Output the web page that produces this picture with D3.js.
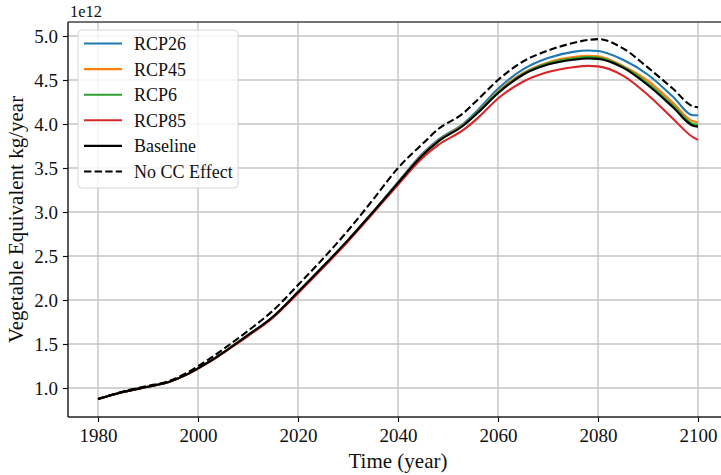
<!DOCTYPE html>
<html lang="en">
<head>
<meta charset="utf-8">
<title>Vegetable Equivalent</title>
<script src="https://cdn.jsdelivr.net/npm/d3@7"></script>
<style>
  body { margin: 0; background: #fff; }
  svg { display: block; font-family: "Liberation Serif", "Times New Roman", serif; }
</style>
</head>
<body>
<script>
// data, in units of 1e12 kg/year
var years    = [1980, 1985, 1990, 1994, 1998, 2002, 2006, 2010, 2015, 2020, 2025, 2030, 2035, 2040, 2045, 2048, 2053, 2056, 2060, 2065, 2070, 2075, 2078, 2080, 2085, 2090, 2095, 2099, 2100];
var rcp26    = [0.875, 0.955, 1.015, 1.065, 1.16, 1.29, 1.44, 1.60, 1.81, 2.09, 2.38, 2.68, 3.00, 3.34, 3.67, 3.82, 4.00, 4.16, 4.40, 4.62, 4.75, 4.82, 4.835, 4.83, 4.73, 4.56, 4.31, 4.10, 4.10];
var rcp45    = [0.875, 0.955, 1.015, 1.065, 1.16, 1.29, 1.44, 1.60, 1.81, 2.09, 2.38, 2.68, 3.00, 3.33, 3.66, 3.81, 3.99, 4.14, 4.37, 4.58, 4.70, 4.76, 4.775, 4.77, 4.66, 4.49, 4.24, 4.03, 4.02];
var rcp6     = [0.875, 0.955, 1.015, 1.065, 1.16, 1.29, 1.44, 1.60, 1.81, 2.09, 2.38, 2.68, 3.00, 3.33, 3.65, 3.80, 3.985, 4.135, 4.36, 4.57, 4.69, 4.745, 4.76, 4.755, 4.65, 4.46, 4.21, 4.00, 3.99];
var rcp85    = [0.875, 0.955, 1.015, 1.065, 1.16, 1.285, 1.435, 1.59, 1.80, 2.075, 2.365, 2.665, 2.985, 3.31, 3.62, 3.76, 3.93, 4.07, 4.29, 4.48, 4.59, 4.645, 4.66, 4.655, 4.55, 4.33, 4.06, 3.85, 3.82];
var baseline = [0.875, 0.955, 1.015, 1.065, 1.16, 1.29, 1.44, 1.60, 1.81, 2.09, 2.38, 2.68, 3.00, 3.33, 3.65, 3.80, 3.98, 4.13, 4.35, 4.56, 4.675, 4.73, 4.745, 4.74, 4.64, 4.44, 4.19, 3.98, 3.97];
var noCC     = [0.875, 0.96, 1.025, 1.075, 1.18, 1.32, 1.48, 1.65, 1.88, 2.17, 2.47, 2.79, 3.14, 3.50, 3.78, 3.94, 4.12, 4.28, 4.50, 4.71, 4.835, 4.92, 4.955, 4.965, 4.86, 4.64, 4.40, 4.20, 4.19];

var xTicks = [1980, 2000, 2020, 2040, 2060, 2080, 2100];
var yTicks = [1.0, 1.5, 2.0, 2.5, 3.0, 3.5, 4.0, 4.5, 5.0];

var series = [
  { name: "RCP26", values: rcp26, color: "#1f77b4", dash: null },
  { name: "RCP45", values: rcp45, color: "#ff7f0e", dash: null },
  { name: "RCP6", values: rcp6, color: "#2ca02c", dash: null },
  { name: "RCP85", values: rcp85, color: "#d62728", dash: null },
  { name: "Baseline", values: baseline, color: "#000000", dash: null },
  { name: "No CC Effect", values: noCC, color: "#000000", dash: "7.4,3.2" }
];

var w = 721, h = 475;
var pLeft = 68, pRight = 728, pTop = 22, pBottom = 417;

var x = d3.scaleLinear().domain([1974, 2106]).range([pLeft, pRight]);
var y = d3.scaleLinear().domain([1.0 - 29 / 88, 5.0 + 14 / 88]).range([pBottom, pTop]);

var svg = d3.select("body").append("svg")
  .attr("width", w)
  .attr("height", h);

// grid
svg.append("g").selectAll("line")
  .data(xTicks).enter().append("line")
  .attr("x1", function(d) { return x(d); }).attr("x2", function(d) { return x(d); })
  .attr("y1", pTop).attr("y2", pBottom)
  .attr("stroke", "#c4c4c4").attr("stroke-width", 1.4);

svg.append("g").selectAll("line")
  .data(yTicks).enter().append("line")
  .attr("x1", pLeft).attr("x2", pRight)
  .attr("y1", function(d) { return y(d); }).attr("y2", function(d) { return y(d); })
  .attr("stroke", "#c4c4c4").attr("stroke-width", 1.4);

// lines
var line = d3.line()
  .x(function(d) { return x(d[0]); })
  .y(function(d) { return y(d[1]); })
  .curve(d3.curveMonotoneX);

svg.append("g").selectAll("path")
  .data(series).enter().append("path")
  .attr("d", function(s) { return line(d3.zip(years, s.values)); })
  .attr("fill", "none")
  .attr("stroke", function(s) { return s.color; })
  .attr("stroke-width", 2.1)
  .attr("stroke-dasharray", function(s) { return s.dash; });

// axes
var xAxis = d3.axisBottom(x).tickValues(xTicks).tickSize(5).tickPadding(7).tickFormat(d3.format("d"));
var yAxis = d3.axisLeft(y).tickValues(yTicks).tickSize(5).tickPadding(5).tickFormat(d3.format(".1f"));

var gx = svg.append("g").attr("transform", "translate(0," + pBottom + ")").call(xAxis);
var gy = svg.append("g").attr("transform", "translate(" + pLeft + ",0)").call(yAxis);

[gx, gy].forEach(function(g) {
  g.select(".domain").remove();
  g.attr("font-family", null).attr("font-size", null);
  g.selectAll(".tick line").attr("stroke", "#000").attr("stroke-width", 1.1);
  g.selectAll(".tick text").attr("fill", "#111").attr("font-size", "19px");
});

// spines
svg.append("line").attr("x1", pLeft).attr("x2", pRight).attr("y1", pTop).attr("y2", pTop)
  .attr("stroke", "#444").attr("stroke-width", 1.5);
svg.append("line").attr("x1", pLeft).attr("x2", pRight).attr("y1", pBottom).attr("y2", pBottom)
  .attr("stroke", "#222").attr("stroke-width", 1.5);
svg.append("line").attr("x1", pLeft).attr("x2", pLeft).attr("y1", pTop).attr("y2", pBottom)
  .attr("stroke", "#222").attr("stroke-width", 1.5);

// offset text
svg.append("text").attr("x", pLeft + 2).attr("y", 17)
  .attr("font-size", "16.5px").attr("fill", "#111").text("1e12");

// axis labels
svg.append("text")
  .attr("x", (pLeft + pRight) / 2).attr("y", 468)
  .attr("text-anchor", "middle").attr("font-size", "21px").attr("fill", "#111")
  .text("Time (year)");

svg.append("text")
  .attr("transform", "translate(23," + ((pTop + pBottom) / 2) + ") rotate(-90)")
  .attr("text-anchor", "middle").attr("font-size", "21px").attr("fill", "#111")
  .text("Vegetable Equivalent kg/year");

// legend
var lg = svg.append("g");
lg.append("rect")
  .attr("x", 78).attr("y", 30).attr("width", 160).attr("height", 158)
  .attr("rx", 4).attr("fill", "#fff").attr("fill-opacity", 0.8)
  .attr("stroke", "#d6d6d6").attr("stroke-width", 1);

var rows = lg.selectAll("g.row")
  .data(series).enter().append("g")
  .attr("transform", function(s, i) { return "translate(0," + (43.5 + i * 25.6) + ")"; });

rows.append("line")
  .attr("x1", 84).attr("x2", 122).attr("y1", 0).attr("y2", 0)
  .attr("stroke", function(s) { return s.color; })
  .attr("stroke-width", 2.1)
  .attr("stroke-dasharray", function(s) { return s.dash; });

rows.append("text")
  .attr("x", 134).attr("y", 6.5)
  .attr("font-size", "18px").attr("fill", "#111")
  .text(function(s) { return s.name; });
</script>
</body>
</html>
